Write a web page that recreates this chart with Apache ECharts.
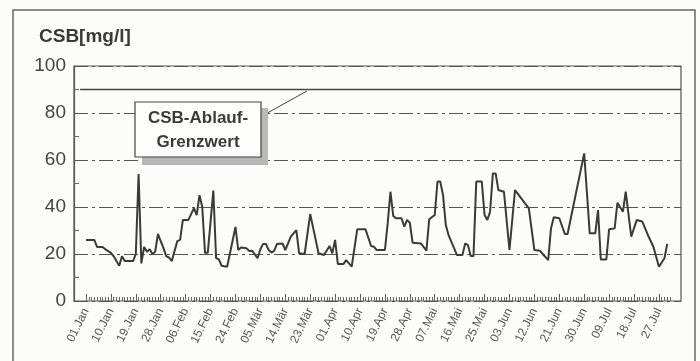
<!DOCTYPE html>
<html>
<head>
<meta charset="utf-8">
<script src="https://cdn.jsdelivr.net/npm/echarts@6/dist/echarts.min.js"></script>
<style>
  html, body { margin: 0; padding: 0; background: #fcfcfb; }
  #chart { width: 700px; height: 361px; }
</style>
</head>
<body>
<div id="chart"></div>
<script>
// Tagesachse 01.Jan .. 31.Jul
const monthNames = ['Jan', 'Feb', 'Mär', 'Apr', 'Mai', 'Jun', 'Jul'];
const monthLengths = [31, 28, 31, 30, 31, 30, 31];

// Ablesungen: Tag (Index ab 01.Jan) und CSB in mg/l
const csbDays = [0, 3, 4, 6, 7, 9, 10, 12, 13, 14, 17, 18, 19, 20, 21, 22, 23, 24, 25, 26,
  28, 29, 30, 31, 33, 34, 35, 37, 39, 40, 41, 42, 43, 44, 46, 47, 48, 49, 51, 54,
  55, 56, 58, 59, 60, 62, 63, 64, 65, 66, 67, 68, 69, 71, 72, 73, 74, 76, 77, 79,
  81, 83, 84, 86, 88, 89, 90, 91, 93, 94, 96, 98, 101, 103, 104, 105, 108, 109, 110, 111,
  112, 114, 115, 116, 117, 118, 121, 123, 124, 126, 127, 128, 129, 130, 131, 134, 136, 137, 138, 139,
  140, 141, 143, 144, 145, 146, 147, 148, 149, 151, 153, 155, 160, 162, 164, 165, 167, 168, 169, 171,
  173, 174, 176, 180, 182, 184, 185, 186, 188, 189, 191, 192, 194, 195, 197, 199, 201, 203, 205, 207,
  209, 210];
const csbValues = [26, 26, 23, 23, 22, 20.5, 19, 15, 19, 17, 17, 20, 54, 16, 23, 21, 22, 20, 21, 28.5,
  22.5, 19, 18.5, 17, 25.5, 26, 34.5, 34.5, 39.5, 36.5, 45, 40, 20.5, 20.5, 47, 18.3, 17.7, 15, 14.6, 31.5,
  21.7, 22.8, 22.4, 21.3, 21.4, 18.2, 22, 24.3, 24.3, 21.7, 20.6, 21.4, 24.3, 24.5, 21.7, 24.5, 27.4, 30.2, 20.3, 20,
  37, 26, 20.3, 19.6, 23.4, 20.3, 26, 15.7, 15.7, 17.4, 14.6, 30.5, 30.5, 23.4, 23.1, 21.7, 21.7, 33, 46.5, 36.2,
  35.2, 35.2, 31.6, 34.5, 33.3, 24.8, 24.5, 21.4, 34.8, 36.6, 50.8, 50.8, 45, 32.3, 28, 19.6, 19.6, 24.5, 23.8, 19.1,
  19.1, 50.8, 50.8, 36.6, 34.5, 38, 54.3, 54.3, 47.2, 46.5, 21.7, 47.2, 39.4, 21.7, 21.4, 20, 17.4, 30.9, 35.6, 35.2,
  28.5, 28.5, 40, 62.8, 28.8, 28.8, 38.7, 17.7, 17.7, 30.5, 30.9, 41.8, 38, 46.5, 27.4, 34.5, 33.8, 28.1, 23.1, 14.6,
  18.2, 24.3];

const grenzwert = 90;
const yTicks = [0, 20, 40, 60, 80, 100];

const dayLabels = [];
monthNames.forEach((m, i) => {
  for (let d = 1; d <= monthLengths[i]; d++) {
    dayLabels.push(String(d).padStart(2, '0') + '.' + m);
  }
});

const chart = echarts.init(document.getElementById('chart'));
const font = 'Liberation Sans, Arial, sans-serif';
const ink = '#3a3a3a';

chart.setOption({
  backgroundColor: '#fcfcfb',
  animation: false,
  title: {
    text: 'CSB[mg/l]',
    left: 34,
    top: 22,
    textStyle: { fontFamily: font, fontSize: 19, fontWeight: 'bold', color: '#3a3a3a' }
  },
  grid: [
    { left: 74, right: 19, top: 66, bottom: 60, show: true, borderColor: '#555', borderWidth: 1.2, backgroundColor: 'transparent' },
    { left: 86, right: 30, top: 66, bottom: 60 }
  ],
  xAxis: [
    { type: 'value', gridIndex: 0, min: 0, max: 1, show: false },
    {
      type: 'category', gridIndex: 1, position: 'bottom', data: dayLabels, boundaryGap: false,
      axisLine: { show: false },
      axisTick: { show: true, inside: true, interval: 8, length: 7, lineStyle: { color: '#555', width: 1 } },
      axisLabel: { interval: 8, rotate: 64, margin: 8, fontFamily: font, fontSize: 12, color: '#555' },
      splitLine: { show: false }
    },
    {
      type: 'category', gridIndex: 1, position: 'bottom', offset: 0, data: dayLabels, boundaryGap: false,
      axisLine: { show: false },
      axisTick: { show: true, inside: true, interval: 0, length: 4, lineStyle: { color: '#666', width: 1 } },
      axisLabel: { show: false },
      splitLine: { show: false }
    }
  ],
  yAxis: [
    {
      type: 'value', gridIndex: 0, min: yTicks[0], max: yTicks[yTicks.length - 1], interval: 20,
      axisLine: { show: true, lineStyle: { color: '#555', width: 1.2 } },
      axisTick: { show: true, inside: true, length: 5, lineStyle: { color: '#555' } },
      minorTick: { show: true, splitNumber: 2, length: 5, lineStyle: { color: '#666' } },
      axisLabel: { margin: 8, fontFamily: font, fontSize: 19, color: '#444' },
      splitLine: { show: true, lineStyle: { color: '#555', width: 1.2, type: [14, 4, 3, 4] } }
    },
    { type: 'value', gridIndex: 1, min: 0, max: 100, show: false }
  ],
  series: [
    {
      name: 'Grenzwert', type: 'line', xAxisIndex: 0, yAxisIndex: 0,
      data: [[0.01, grenzwert], [1, grenzwert]],
      symbol: 'none', silent: true,
      lineStyle: { color: '#444', width: 1.3 }
    },
    {
      name: 'CSB', type: 'line', xAxisIndex: 1, yAxisIndex: 1,
      data: csbDays.map((d, i) => [d, csbValues[i]]),
      symbol: 'none',
      lineStyle: { color: ink, width: 2 }
    }
  ],
  graphic: [
    { type: 'rect', shape: { x: 13, y: 10, width: 682, height: 370 }, style: { fill: 'none', stroke: '#666', lineWidth: 1.5 }, z: 10 },
    { type: 'line', shape: { x1: 262, y1: 116, x2: 307, y2: 91 }, style: { stroke: '#444', lineWidth: 1 }, z: 10 },
    { type: 'rect', shape: { x: 142, y: 108, width: 126, height: 57 }, style: { fill: '#b8b8b8' }, z: 10 },
    { type: 'rect', shape: { x: 135, y: 102, width: 126, height: 55 }, style: { fill: '#fdfdfc', stroke: '#444', lineWidth: 1.2 }, z: 11 },
    {
      type: 'text', x: 198, y: 130, z: 12,
      style: {
        text: 'CSB-Ablauf-\nGrenzwert', fill: '#3a3a3a', fontFamily: font, fontSize: 17, fontWeight: 'bold',
        align: 'center', verticalAlign: 'middle', lineHeight: 24
      }
    }
  ]
});
</script>
</body>
</html>
